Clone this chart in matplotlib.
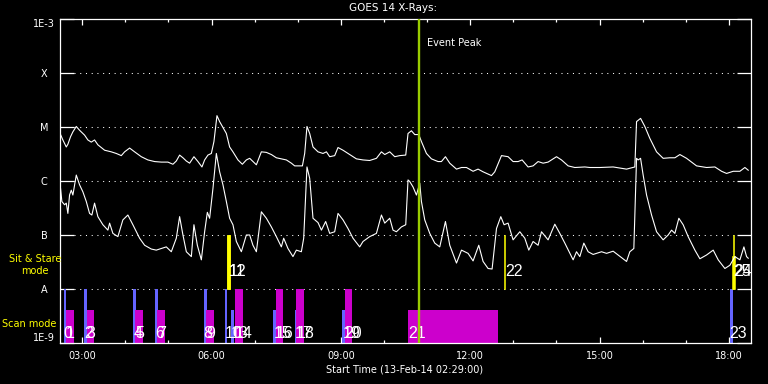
import numpy as np
import matplotlib
matplotlib.use('Agg')
import matplotlib.pyplot as plt
from matplotlib.ticker import FixedLocator, MultipleLocator, FuncFormatter, NullLocator

# GOES 14 long channel, decimal hours (13-Feb-14) and log10 flux (W/m^2)
long_t = [2.496, 2.550, 2.629, 2.666, 2.728, 2.782, 2.861, 2.937, 3.053, 3.130,
          3.209, 3.285, 3.362, 3.518, 3.673, 3.789, 3.905, 3.982, 4.098, 4.214,
          4.369, 4.522, 4.678, 4.833, 4.987, 5.103, 5.181, 5.258, 5.335, 5.414,
          5.490, 5.590, 5.683, 5.776, 5.838, 5.915, 5.994, 6.054, 6.124, 6.186,
          6.263, 6.342, 6.418, 6.495, 6.611, 6.713, 6.806, 6.883, 6.959, 7.038,
          7.154, 7.270, 7.386, 7.502, 7.618, 7.734, 7.850, 7.927, 8.106, 8.159,
          8.212, 8.275, 8.352, 8.468, 8.584, 8.663, 8.739, 8.855, 8.932, 9.048,
          9.203, 9.359, 9.512, 9.667, 9.823, 9.939, 10.016, 10.132, 10.248, 10.364,
          10.503, 10.556, 10.635, 10.712, 10.805, 10.867, 10.983, 11.099, 11.252, 11.331,
          11.424, 11.524, 11.680, 11.796, 11.912, 12.065, 12.181, 12.297, 12.492, 12.568,
          12.724, 12.877, 12.993, 13.109, 13.202, 13.341, 13.457, 13.573, 13.689, 13.805,
          14.000, 14.116, 14.270, 14.425, 14.657, 14.773, 15.005, 15.314, 15.625, 15.817,
          15.857, 15.950, 16.049, 16.165, 16.321, 16.474, 16.630, 16.746, 16.862, 17.017,
          17.249, 17.481, 17.674, 17.829, 17.945, 18.099, 18.254, 18.370, 18.447]
long_f = [-5.14, -5.24, -5.37, -5.32, -5.18, -5.09, -4.99, -5.06, -5.15, -5.24,
          -5.28, -5.24, -5.33, -5.43, -5.46, -5.49, -5.53, -5.46, -5.39, -5.46,
          -5.55, -5.61, -5.64, -5.65, -5.65, -5.69, -5.63, -5.52, -5.57, -5.63,
          -5.67, -5.55, -5.64, -5.74, -5.61, -5.52, -5.49, -5.27, -4.79, -4.90,
          -5.01, -5.12, -5.37, -5.46, -5.61, -5.69, -5.61, -5.58, -5.64, -5.70,
          -5.46, -5.47, -5.51, -5.57, -5.59, -5.61, -5.67, -5.72, -5.72, -5.49,
          -4.99, -5.12, -5.37, -5.46, -5.49, -5.46, -5.55, -5.53, -5.38, -5.43,
          -5.51, -5.59, -5.61, -5.62, -5.58, -5.46, -5.51, -5.46, -5.55, -5.53,
          -5.52, -5.12, -5.07, -5.14, -5.14, -5.27, -5.49, -5.59, -5.64, -5.64,
          -5.55, -5.67, -5.78, -5.75, -5.75, -5.82, -5.78, -5.83, -5.90, -5.83,
          -5.53, -5.55, -5.64, -5.64, -5.61, -5.74, -5.72, -5.64, -5.67, -5.65,
          -5.55, -5.61, -5.72, -5.75, -5.74, -5.75, -5.75, -5.74, -5.78, -5.74,
          -4.90, -4.84, -4.99, -5.21, -5.46, -5.58, -5.57, -5.57, -5.51, -5.58,
          -5.72, -5.75, -5.74, -5.82, -5.86, -5.82, -5.82, -5.75, -5.80]

# short channel
short_t = [2.496, 2.527, 2.589, 2.629, 2.666, 2.705, 2.745, 2.782, 2.861, 2.937,
           3.014, 3.093, 3.169, 3.223, 3.285, 3.362, 3.478, 3.594, 3.634, 3.710,
           3.826, 3.942, 4.058, 4.174, 4.330, 4.446, 4.601, 4.717, 4.833, 4.949,
           5.065, 5.181, 5.258, 5.335, 5.414, 5.530, 5.590, 5.669, 5.762, 5.838,
           5.901, 5.954, 6.031, 6.110, 6.186, 6.263, 6.342, 6.418, 6.495, 6.574,
           6.690, 6.806, 6.883, 6.959, 7.038, 7.154, 7.270, 7.386, 7.502, 7.618,
           7.672, 7.771, 7.887, 7.966, 8.082, 8.136, 8.212, 8.275, 8.352, 8.468,
           8.547, 8.646, 8.739, 8.855, 8.932, 9.048, 9.164, 9.280, 9.435, 9.512,
           9.667, 9.823, 9.939, 10.016, 10.132, 10.208, 10.287, 10.403, 10.503, 10.556,
           10.596, 10.672, 10.751, 10.828, 10.867, 10.944, 11.060, 11.176, 11.292, 11.424,
           11.524, 11.680, 11.796, 11.949, 12.065, 12.197, 12.297, 12.413, 12.506, 12.608,
           12.708, 12.784, 12.877, 12.993, 13.149, 13.265, 13.357, 13.457, 13.573, 13.652,
           13.805, 13.961, 14.077, 14.193, 14.386, 14.464, 14.541, 14.634, 14.734, 14.850,
           15.045, 15.161, 15.314, 15.430, 15.625, 15.701, 15.794, 15.857, 15.894, 15.950,
           16.010, 16.089, 16.205, 16.321, 16.474, 16.590, 16.669, 16.746, 16.838, 16.938,
           17.054, 17.210, 17.326, 17.481, 17.635, 17.751, 17.906, 18.022, 18.138, 18.254,
           18.347, 18.409, 18.447]
short_f = [-6.14, -6.38, -6.44, -6.41, -6.60, -6.26, -6.17, -6.26, -5.89, -6.07,
           -6.20, -6.38, -6.60, -6.63, -6.41, -6.66, -6.81, -6.91, -6.78, -6.97,
           -7.03, -6.72, -6.63, -6.81, -7.06, -7.19, -7.26, -7.28, -7.25, -7.22,
           -7.31, -7.06, -6.66, -7.00, -7.31, -7.40, -6.81, -7.19, -7.46, -6.94,
           -6.58, -6.69, -6.14, -5.49, -5.83, -6.07, -6.38, -6.69, -6.81, -7.12,
           -7.31, -7.00, -7.00, -7.19, -7.31, -6.57, -6.69, -6.85, -7.03, -7.22,
           -7.06, -7.25, -7.40, -7.28, -7.31, -7.06, -5.74, -5.95, -6.69, -6.77,
           -6.91, -6.75, -6.97, -6.94, -6.60, -6.72, -6.88, -7.06, -7.22, -7.12,
           -7.03, -6.97, -6.63, -6.78, -6.69, -6.91, -6.94, -6.85, -6.81, -5.98,
           -6.01, -6.11, -6.26, -6.04, -6.38, -6.72, -6.97, -7.15, -7.22, -6.75,
           -7.19, -7.52, -7.28, -7.34, -7.48, -7.19, -7.49, -7.62, -7.63, -6.88,
           -6.66, -6.81, -6.78, -7.09, -6.94, -7.06, -7.28, -7.12, -7.19, -6.94,
           -7.09, -6.80, -6.97, -7.15, -7.46, -7.31, -7.40, -7.15, -7.31, -7.36,
           -7.31, -7.34, -7.30, -7.37, -7.49, -7.31, -7.25, -5.58, -5.61, -5.58,
           -5.89, -6.26, -6.63, -6.94, -7.09, -7.00, -6.91, -6.97, -6.69, -6.81,
           -7.03, -7.28, -7.44, -7.37, -7.28, -7.46, -7.62, -7.56, -7.40, -7.46,
           -7.22, -7.40, -7.43]

# scan mode observations
scan_id = [0, 1, 2, 3, 4, 5, 6, 7, 8, 9, 10, 13, 14, 15, 16, 17, 18, 19, 20, 21, 23]
scan_start = ['02:34', '02:37', '03:03', '03:06', '04:11', '04:14', '04:41', '04:44',
              '05:49', '05:52', '06:18', '06:27', '06:32', '07:26', '07:29', '07:56',
              '07:58', '09:02', '09:05', '10:34', '18:01']
scan_dur = [4, 11, 4, 11, 4, 11, 4, 11, 4, 11, 4, 4, 11, 4, 11, 4, 11, 4, 11, 125, 4]
scan_prog = ['a', 'b', 'a', 'b', 'a', 'b', 'a', 'b', 'a', 'b', 'a',
             'a', 'b', 'a', 'b', 'a', 'b', 'a', 'b', 'b', 'a']
scan_wide = [1, 0, 1, 0, 1, 0, 1, 0, 1, 0, 1, 0, 1, 0, 1, 0, 1, 0, 1, 0, 1]

# sit & stare observations
ss_id = [11, 12, 22, 24, 25]
ss_start = ['06:22', '06:22', '12:47', '18:06', '18:04']
ss_dur = [3, 3, 1, 1, 4]
ss_top = [1e-7, 1e-7, 1e-7, 1e-7, 4e-8]

event_peak = '10:48'

levels = [1e-9, 1e-8, 1e-7, 1e-6, 1e-5, 1e-4, 1e-3]
level_names = ['1E-9', 'A', 'B', 'C', 'M', 'X', '1E-3']


def hours(s):
    h, m = s.split(':')
    return int(h) + int(m) / 60.0


plt.rcParams['font.family'] = ['DejaVu Sans']
plt.rcParams['font.size'] = 7

fig = plt.figure(figsize=(7.68, 3.84), dpi=100, facecolor='black')
ax = fig.add_axes([60 / 768, 41 / 384, 690.5 / 768, 324 / 384])
ax.set_facecolor('black')
for sp in ax.spines.values():
    sp.set_color('white')
    sp.set_linewidth(0.9)

ax.set_yscale('log')
ax.set_ylim(1e-9, 1e-3)
ax.set_xlim(2 + 29 / 60, 18.5)

# dotted level lines
fr = 14 / 690.5
for lv in levels[1:-1]:
    ax.axhline(lv, xmin=fr, xmax=1 - fr, color='white', lw=0.75,
               ls=(0, (1, 4.5)), zorder=1)

# scan mode bars
blue = '#6464ff'
mag = '#cc00cc'
low_top = 10 ** -8.39
for i in range(len(scan_id)):
    t0 = hours(scan_start[i])
    top = 1e-8 if scan_wide[i] else low_top
    col = blue if scan_prog[i] == 'a' else mag
    ax.bar(t0, top - 1e-9, width=scan_dur[i] / 60, bottom=1e-9, align='edge',
           color=col, lw=0, zorder=2)
for i in range(len(scan_id)):
    ax.text(hours(scan_start[i]), 10 ** -8.815, str(scan_id[i]), color='white',
            fontsize=11.5, family='Liberation Sans', ha='left', va='center', zorder=5)

# sit & stare bars
for i in range(len(ss_id)):
    t0 = hours(ss_start[i])
    ax.bar(t0, ss_top[i] - 1e-8, width=ss_dur[i] / 60, bottom=1e-8, align='edge',
           color='#ffff00', edgecolor='#ffff00', lw=0.4, zorder=3)
    ax.text(t0 + 2 / 60, 10 ** -7.685, str(ss_id[i]), color='white',
            fontsize=11.5, family='Liberation Sans', ha='left', va='center', zorder=5)

# light curves
ax.plot(long_t, 10 ** np.array(long_f), color='white', lw=0.8, zorder=4)
ax.plot(short_t, 10 ** np.array(short_f), color='white', lw=0.8, zorder=4)

# event peak
tp = hours(event_peak)
ax.axvline(tp, color='#99cc00', lw=1.7, zorder=6)
ax.text(tp + 0.2, 10 ** -3.45, 'Event Peak', color='white', fontsize=7,
        ha='left', va='center')

# axes ticks
ax.yaxis.set_major_locator(FixedLocator(levels))
ax.yaxis.set_minor_locator(NullLocator())
ax.set_yticklabels(level_names)
ax.tick_params(axis='y', which='major', direction='in', length=10, width=0.9,
               colors='white', left=True, right=True, pad=11.5, labelsize=7)
for lab in ax.get_yticklabels():
    lab.set_ha('center')
ylabs = ax.get_yticklabels()
ylabs[0].set_va('bottom')
ylabs[-1].set_va('top')

ax.xaxis.set_major_locator(MultipleLocator(3))
ax.xaxis.set_minor_locator(MultipleLocator(1))
ax.xaxis.set_major_formatter(FuncFormatter(lambda v, p: '%02d:00' % int(round(v))))
ax.tick_params(axis='x', which='major', direction='in', length=4.5, width=0.9,
               colors='white', top=True, bottom=True, pad=5.5, labelsize=7)
ax.tick_params(axis='x', which='minor', direction='in', length=2.5, width=0.9,
               colors='white', top=True, bottom=True)

fig.text(393 / 768, 1 - 8 / 384, 'GOES 14 X-Rays:', color='white', fontsize=7.5,
         ha='center', va='center')
fig.text(405 / 768, 1 - 369 / 384, 'Start Time (13-Feb-14 02:29:00)', color='white',
         fontsize=7, ha='center', va='center')
fig.text(35 / 768, 1 - 259 / 384, 'Sit & Stare', color='#ffff00', fontsize=7,
         ha='center', va='center')
fig.text(35 / 768, 1 - 271 / 384, 'mode', color='#ffff00', fontsize=7,
         ha='center', va='center')
fig.text(2 / 768, 1 - 324 / 384, 'Scan mode', color='#ffff00', fontsize=7,
         ha='left', va='center')

fig.savefig('out.png', dpi=100, facecolor='black')
